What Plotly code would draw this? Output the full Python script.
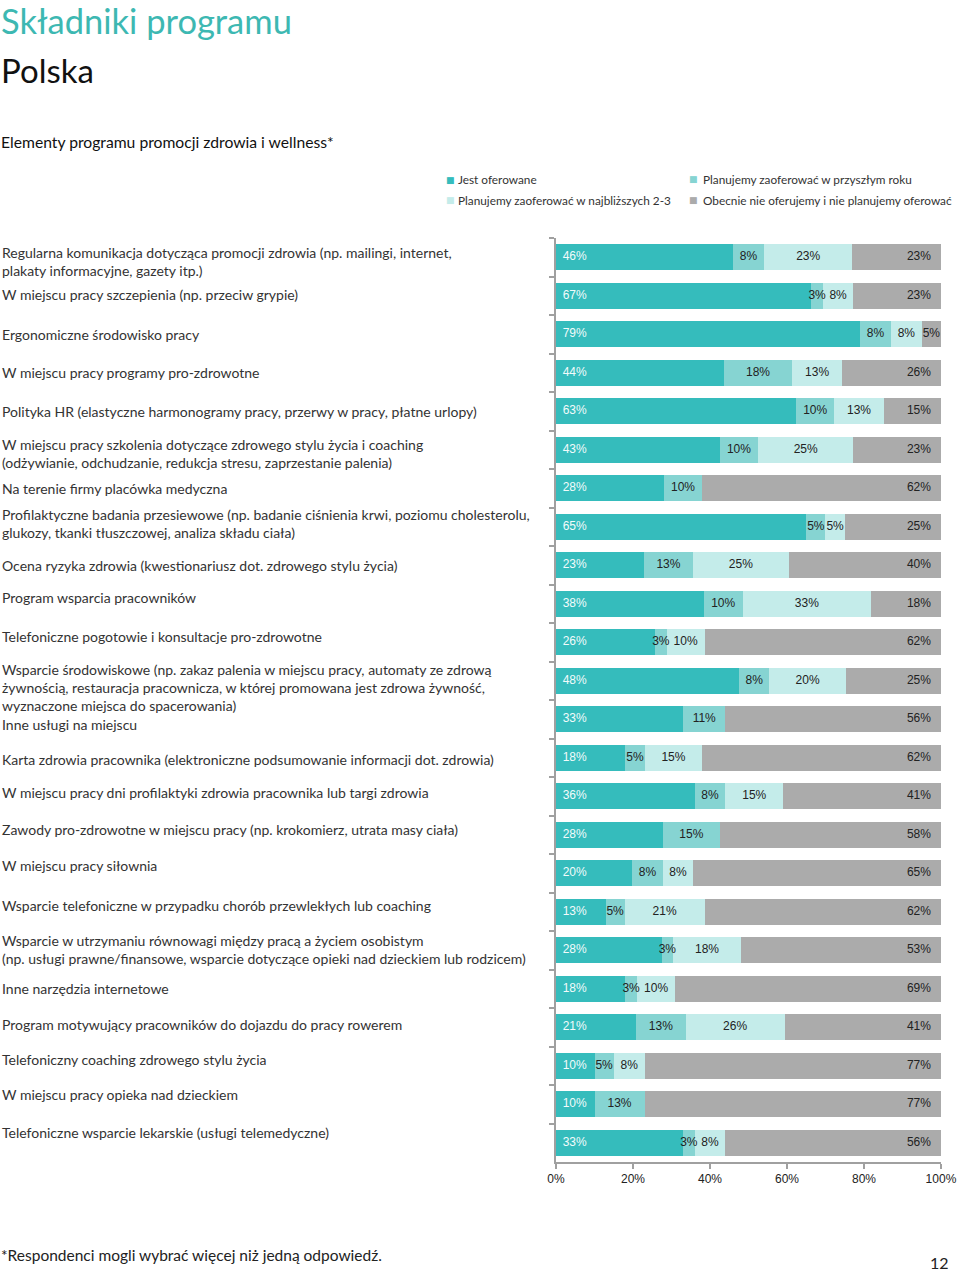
import plotly.graph_objects as go

categories = [
    "Regularna komunikacja dotycząca promocji zdrowia (np. mailingi, internet,<br>plakaty informacyjne, gazety itp.)",
    "W miejscu pracy szczepienia (np. przeciw grypie)",
    "Ergonomiczne środowisko pracy",
    "W miejscu pracy programy pro-zdrowotne",
    "Polityka HR (elastyczne harmonogramy pracy, przerwy w pracy, płatne urlopy)",
    "W miejscu pracy szkolenia dotyczące zdrowego stylu życia i coaching<br>(odżywianie, odchudzanie, redukcja stresu, zaprzestanie palenia)",
    "Na terenie firmy placówka medyczna",
    "Profilaktyczne badania przesiewowe (np. badanie ciśnienia krwi, poziomu cholesterolu,<br>glukozy, tkanki tłuszczowej, analiza składu ciała)",
    "Ocena ryzyka zdrowia (kwestionariusz dot. zdrowego stylu życia)",
    "Program wsparcia pracowników",
    "Telefoniczne pogotowie i konsultacje pro-zdrowotne",
    "Wsparcie środowiskowe (np. zakaz palenia w miejscu pracy, automaty ze zdrową<br>żywnością, restauracja pracownicza, w której promowana jest zdrowa żywność,<br>wyznaczone miejsca do spacerowania)",
    "Inne usługi na miejscu",
    "Karta zdrowia pracownika (elektroniczne podsumowanie informacji dot. zdrowia)",
    "W miejscu pracy dni profilaktyki zdrowia pracownika lub targi zdrowia",
    "Zawody pro-zdrowotne w miejscu pracy (np. krokomierz, utrata masy ciała)",
    "W miejscu pracy siłownia",
    "Wsparcie telefoniczne w przypadku chorób przewlekłych lub coaching",
    "Wsparcie w utrzymaniu równowagi między pracą a życiem osobistym<br>(np. usługi prawne/finansowe, wsparcie dotyczące opieki nad dzieckiem lub rodzicem)",
    "Inne narzędzia internetowe",
    "Program motywujący pracowników do dojazdu do pracy rowerem",
    "Telefoniczny coaching zdrowego stylu życia",
    "W miejscu pracy opieka nad dzieckiem",
    "Telefoniczne wsparcie lekarskie (usługi telemedyczne)",
]

jest_oferowane = [46, 67, 79, 44, 63, 43, 28, 65, 23, 38, 26, 48, 33, 18, 36, 28, 20, 13, 28, 18, 21, 10, 10, 33]
przyszly_rok = [8, 3, 8, 18, 10, 10, 10, 5, 13, 10, 3, 8, 11, 5, 8, 15, 8, 5, 3, 3, 13, 5, 13, 3]
najblizsze_2_3 = [23, 8, 8, 13, 13, 25, 0, 5, 25, 33, 10, 20, 0, 15, 15, 0, 8, 21, 18, 10, 26, 8, 0, 8]
nie_oferujemy = [23, 23, 5, 26, 15, 23, 62, 25, 40, 18, 62, 25, 56, 62, 41, 58, 65, 62, 53, 69, 41, 77, 77, 56]

series_names = [
    "Jest oferowane",
    "Planujemy zaoferować w przyszłym roku",
    "Planujemy zaoferować w najbliższych 2-3",
    "Obecnie nie oferujemy i nie planujemy oferować",
]

x_ticks = [0, 20, 40, 60, 80, 100]
x_tick_labels = ["0%", "20%", "40%", "60%", "80%", "100%"]

title_main = "Składniki programu"
title_country = "Polska"
subtitle = "Elementy programu promocji zdrowia i wellness*"
footnote = "*Respondenci mogli wybrać więcej niż jedną odpowiedź."
page_number = "12"

# ---- styles ----
colors = ["#35BCBC", "#86D4D2", "#C4ECEA", "#ABABAB"]
# legend grid placement (paper coords): square x, text x, row y
legend_sq_x = [-0.2753, 0.3584, -0.2753, 0.3584]
legend_tx_x = [-0.2597, 0.3766, -0.2597, 0.3766]
legend_y = [1.0628, 1.0638, 1.0411, 1.0411]
label_shift = [-4, 1, 0, 0, 0, -4, 0, 3, 0, 6, 6, -7, -5, -2, 4, 5, 8, 6, 1, 0, 3, 6, 10, 10]
NB = "\u00a0"
SANS = "Lato, Open Sans, sans-serif"
ARIAL = "Liberation Sans, Arial, sans-serif"
NARROW_SEGMENT = 10  # below this width (in %) the last label is centred

series = [jest_oferowane, przyszly_rok, najblizsze_2_3, nie_oferujemy]
n = len(categories)
totals = [sum(s[i] for s in series) for i in range(n)]
norm = [[v * 100.0 / t for v, t in zip(vals, totals)] for vals in series]

fig = go.Figure()
for k, name in enumerate(series_names):
    fig.add_trace(go.Bar(
        y=categories, x=norm[k], orientation="h", name=name,
        marker=dict(color=colors[k], line=dict(width=0)),
        hoverinfo="skip", showlegend=False,
    ))

# value labels as text traces (drawn above all bars)
starts = [[sum(norm[j][i] for j in range(k)) for i in range(n)] for k in range(4)]
for k, vals in enumerate(series):
    if k == 0:
        xs = [0.0] * n
        texts = [NB * 2 + f"{v}%" if v else "" for v in vals]
        pos = ["middle right"] * n
        tcolor = "#F2FBFB"
    elif k == 3:
        xs, texts, pos = [], [], []
        for i, v in enumerate(vals):
            if norm[k][i] < NARROW_SEGMENT:
                xs.append(starts[k][i] + norm[k][i] / 2)
                texts.append(f"{v}%")
                pos.append("middle center")
            else:
                xs.append(starts[k][i] + norm[k][i])
                texts.append(f"{v}%" + NB * 3)
                pos.append("middle left")
        tcolor = "#222222"
    else:
        xs = [starts[k][i] + norm[k][i] / 2 for i in range(n)]
        texts = [f"{v}%" if v else "" for v in vals]
        pos = ["middle center"] * n
        tcolor = "#222222"
    fig.add_trace(go.Scatter(
        y=categories, x=xs, mode="text", text=texts, textposition=pos,
        textfont=dict(family=ARIAL, size=12, color=tcolor),
        hoverinfo="skip", showlegend=False, cliponaxis=False,
    ))

# legend (2 x 2 grid of colour squares and names)
for k, name in enumerate(series_names):
    fig.add_annotation(x=legend_sq_x[k], xref="paper", y=legend_y[k], yref="paper",
                       text="■", showarrow=False, xanchor="center", yanchor="middle",
                       font=dict(family="DejaVu Sans", size=9, color=colors[k]))
    fig.add_annotation(x=legend_tx_x[k], xref="paper", y=legend_y[k], yref="paper",
                       text=name, showarrow=False, xanchor="left", yanchor="middle",
                       font=dict(family=SANS, size=11.8, color="#333333"))

# category labels on the left
for cat, sh in zip(categories, label_shift):
    fig.add_annotation(
        x=-1.4442, xref="paper", y=cat, yref="y", yshift=sh,
        text=cat, showarrow=False, xanchor="left", yanchor="middle", align="left",
        font=dict(family=SANS, size=14, color="#333333"),
    )

fig.add_annotation(x=-1.4468, xref="paper", y=1.2359, yref="paper", text=title_main,
                   showarrow=False, xanchor="left", yanchor="middle",
                   font=dict(family=SANS, size=34.5, color="#3DB8B2"))
fig.add_annotation(x=-1.4468, xref="paper", y=1.1818, yref="paper", text=title_country,
                   showarrow=False, xanchor="left", yanchor="middle",
                   font=dict(family=SANS, size=33, color="#111111"))
fig.add_annotation(x=-1.4468, xref="paper", y=1.1039, yref="paper", text=subtitle,
                   showarrow=False, xanchor="left", yanchor="middle",
                   font=dict(family=SANS, size=15.7, color="#111111"))
fig.add_annotation(x=-1.4468, xref="paper", y=-0.1006, yref="paper", text=footnote,
                   showarrow=False, xanchor="left", yanchor="middle",
                   font=dict(family=SANS, size=15.5, color="#222222"))
fig.add_annotation(x=0.997, xref="paper", y=-0.1093, yref="paper", text=page_number,
                   showarrow=False, xanchor="center", yanchor="middle",
                   font=dict(family=SANS, size=16, color="#222222"))

fig.update_layout(
    width=960, height=1272,
    margin=dict(l=556, r=19, t=238, b=110, autoexpand=False),
    barmode="stack", bargap=0.33,
    plot_bgcolor="white", paper_bgcolor="white",
    showlegend=False,
    xaxis=dict(
        range=[0, 100.01], tickvals=x_ticks, ticktext=x_tick_labels, automargin=False,
        showgrid=False, zeroline=False, showline=True, linecolor="#A0A0A0", linewidth=1.5,
        ticks="outside", ticklen=5, tickcolor="#A0A0A0", tickwidth=1.5,
        tickfont=dict(family=ARIAL, size=12, color="#222222"),
        fixedrange=True,
    ),
    yaxis=dict(
        range=[n - 0.5, -0.5], autorange=False, automargin=False,
        showticklabels=False, showgrid=False, zeroline=False,
        showline=True, linecolor="#A0A0A0", linewidth=1.5,
        ticks="outside", ticklen=5, tickcolor="#A0A0A0", tickwidth=1.5, tickson="boundaries",
        fixedrange=True,
    ),
)

fig.write_html("out.html", config={"displayModeBar": False},
               post_script="document.body.style.margin='0';")
